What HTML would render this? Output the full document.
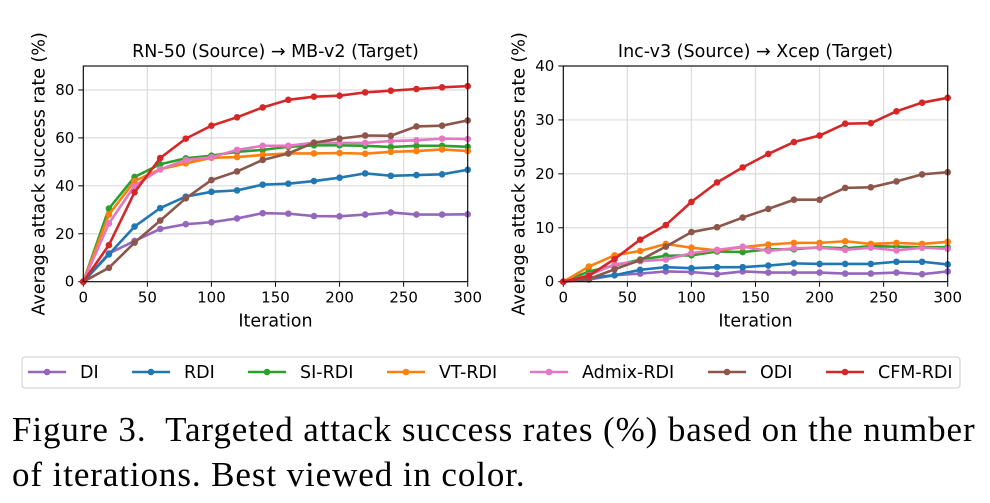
<!DOCTYPE html>
<html><head><meta charset="utf-8">
<style>
body{margin:0;background:#fff;width:990px;height:503px;overflow:hidden}
svg{position:absolute;left:0;top:0}
.cap{position:absolute;left:12px;top:407px;font-family:"Liberation Serif",serif;font-size:35px;letter-spacing:0.9px;line-height:45px;color:#000;margin:0;white-space:nowrap}
</style></head><body>
<svg id="chart" width="990" height="503" font-family="DejaVu Sans, Liberation Sans, sans-serif"></svg>
<p class="cap">Figure 3.&nbsp; Targeted attack success rates (%) based on the number<br>of iterations. Best viewed in color.</p>
<script>
const iterations=[0,20,40,60,80,100,120,140,160,180,200,220,240,260,280,300];
const seriesNames=["DI","RDI","SI-RDI","VT-RDI","Admix-RDI","ODI","CFM-RDI"];
const seriesColors=["#9467bd","#1f77b4","#2ca02c","#ff7f0e","#e377c2","#8c564b","#d62728"];
const leftDI=[0,11.8,17,22,24,24.8,26.4,28.6,28.4,27.4,27.3,28,28.9,28,28,28.1];
const leftRDI=[0,11.4,23,30.7,35.5,37.5,38.1,40.5,40.9,42,43.4,45.2,44.2,44.5,44.8,46.7];
const leftSI=[0,30.5,43.7,49,51.5,52.6,54.2,55,56.3,56.9,56.9,56.7,56.2,56.7,56.7,56.3];
const leftVT=[0,28,42,46.9,49.4,51.7,52,52.9,53.5,53.5,53.7,53.4,54.2,54.5,55.2,54.5];
const leftAdmix=[0,24.3,40,46.9,50.8,51.9,55,56.7,56.7,58,57.9,57.9,58.7,59,59.7,59.5];
const leftODI=[0,5.8,16.3,25.5,34.8,42.4,46,50.8,53.5,58,59.7,61,60.9,64.8,65.1,67.3];
const leftCFM=[0,15.3,37.3,51.6,59.7,65.1,68.6,72.7,75.9,77.2,77.6,79,79.7,80.4,81.1,81.6];
const rightDI=[0,0.4,1.2,1.5,1.9,1.8,1.4,1.9,1.7,1.7,1.7,1.5,1.5,1.7,1.4,1.9];
const rightRDI=[0,0.7,1.2,2.2,2.7,2.5,2.7,2.7,3,3.4,3.3,3.3,3.3,3.7,3.7,3.2];
const rightSI=[0,1.9,3,4.1,4.8,4.9,5.6,5.5,6,6,6.4,6.2,6.6,6.5,6.4,6.4];
const rightVT=[0,2.8,4.9,5.7,7,6.3,5.8,6.4,6.9,7.2,7.2,7.5,7,7.2,7,7.4];
const rightAdmix=[0,1.2,3.2,3.8,4.1,5.3,5.9,6.5,5.7,6.2,6.3,5.9,6.3,5.8,6.3,6.1];
const rightODI=[0,0.5,2.3,4,6.5,9.2,10.1,11.9,13.5,15.2,15.2,17.4,17.5,18.6,19.9,20.3];
const rightCFM=[0,1.1,4.2,7.8,10.5,14.8,18.4,21.2,23.7,25.9,27.1,29.3,29.4,31.6,33.2,34.1];
const xTicks=[0,50,100,150,200,250,300];
const leftYTicks=[0,20,40,60,80];
const rightYTicks=[0,10,20,30,40];

const NS="http://www.w3.org/2000/svg";
const svg=document.getElementById('chart');
function mk(tag,attrs,parent){const e=document.createElementNS(NS,tag);for(const k in attrs)e.setAttribute(k,attrs[k]);(parent||svg).appendChild(e);return e;}

function panel(name,x0,x1,yTop,yBot,yMax,yTicks,data,title){
  const g=mk('g',{});
  
  
  const sx=v=>x0+(v/300)*(x1-x0);
  const sy=v=>yBot-(v/yMax)*(yBot-yTop);
  xTicks.forEach(t=>{
    const l=mk('line',{x1:sx(t),x2:sx(t),y1:yTop,y2:yBot,stroke:'#dcdcdc','stroke-width':1.2},g);
    
    
    mk('line',{x1:sx(t),x2:sx(t),y1:yBot,y2:yBot+5,stroke:'#000','stroke-width':1},g);
    const tx=mk('text',{x:sx(t),y:yBot+21,'text-anchor':'middle','font-size':15},g);tx.textContent=t;
    
    
  });
  yTicks.forEach(t=>{
    const l=mk('line',{x1:x0,x2:x1,y1:sy(t),y2:sy(t),stroke:'#dcdcdc','stroke-width':1.2},g);
    
    
    mk('line',{x1:x0-5,x2:x0,y1:sy(t),y2:sy(t),stroke:'#000','stroke-width':1},g);
    const tx=mk('text',{x:x0-9,y:sy(t)+5,'text-anchor':'end','font-size':15},g);tx.textContent=t;
    
    
  });
  data.forEach((arr,i)=>{
    const pts=arr.map((v,j)=>sx(iterations[j])+','+sy(v)).join(' ');
    const pl=mk('polyline',{points:pts,fill:'none',stroke:seriesColors[i],'stroke-width':2.6,'stroke-linejoin':'round'},g);
    
    
    arr.forEach((v,j)=>{
      const c=mk('circle',{cx:sx(iterations[j]),cy:sy(v),r:3.3,fill:seriesColors[i]},g);
      
      
    });
  });
  const fr=mk('rect',{x:x0,y:yTop,width:x1-x0,height:yBot-yTop,fill:'none',stroke:'#000','stroke-width':1.1},g);
  
  
  const tt=mk('text',{x:(x0+x1)/2,y:yTop-9,'text-anchor':'middle','font-size':17.5},g);tt.textContent=title;
  
  
  const xl=mk('text',{x:(x0+x1)/2,y:yBot+45,'text-anchor':'middle','font-size':17.5},g);xl.textContent='Iteration';
  
  
  const yl=mk('text',{x:0,y:0,'text-anchor':'middle','font-size':17.5,transform:`translate(${x0-39},${(yTop+yBot)/2}) rotate(-90)`},g);
  yl.textContent='Average attack success rate (%)';
  
  
}
panel('left-panel',83.3,467.7,66,281.7,90,leftYTicks,[leftDI,leftRDI,leftSI,leftVT,leftAdmix,leftODI,leftCFM],'RN-50 (Source) \u2192 MB-v2 (Target)');
panel('right-panel',563.3,947.7,66,281.7,40,rightYTicks,[rightDI,rightRDI,rightSI,rightVT,rightAdmix,rightODI,rightCFM],'Inc-v3 (Source) \u2192 Xcep (Target)');

const lg=mk('g',{});


mk('rect',{x:22,y:357,width:938,height:31,rx:3,fill:'#fff',stroke:'#cccccc','stroke-width':1},lg);
const legX=[28,132,248,387,530,708,826];
seriesNames.forEach((n,i)=>{
  const e=mk('g',{},lg);
  
  
  mk('line',{x1:legX[i],x2:legX[i]+38,y1:372,y2:372,stroke:seriesColors[i],'stroke-width':2.6},e);
  mk('circle',{cx:legX[i]+19,cy:372,r:3.3,fill:seriesColors[i]},e);
  const t=mk('text',{x:legX[i]+52,y:378,'font-size':17.5},e);t.textContent=n;
});
</script>
</body></html>
